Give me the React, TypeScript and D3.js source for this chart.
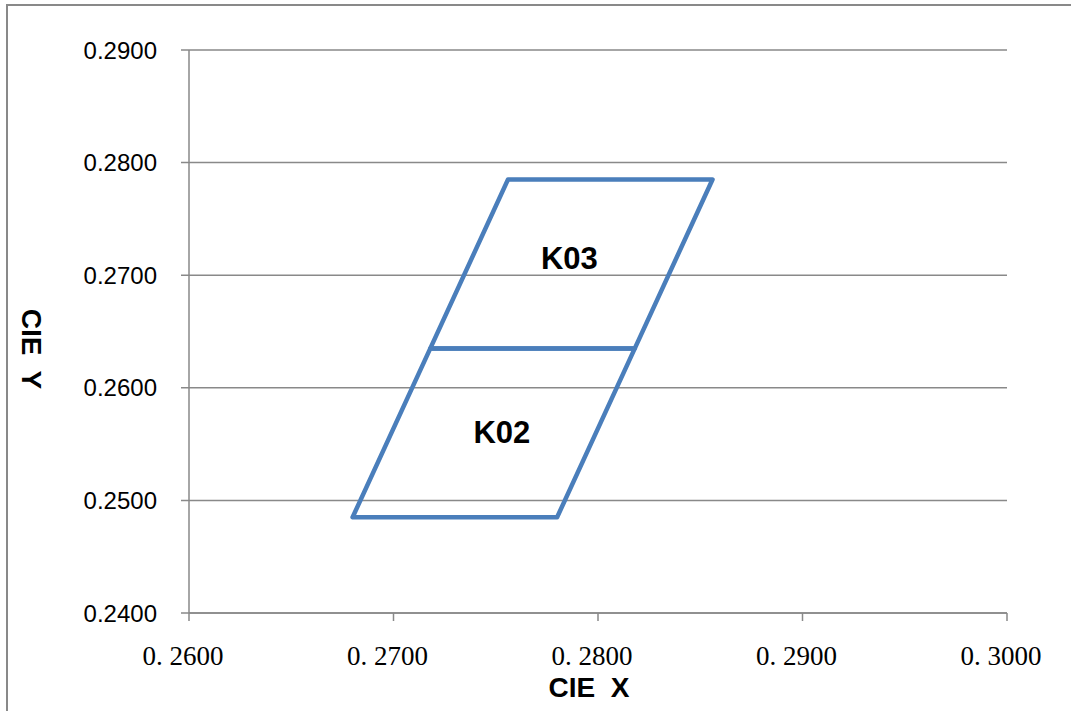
import * as d3 from 'd3';

// CIE x/y bin corners
const binNames = ['K02', 'K03'];
const binX = [
  [0.2680, 0.2780, 0.2818, 0.2718],
  [0.2718, 0.2818, 0.2856, 0.2756],
];
const binY = [
  [0.2485, 0.2485, 0.2635, 0.2635],
  [0.2635, 0.2635, 0.2785, 0.2785],
];
// where each bin name sits (data units)
const labelX = [0.2753, 0.2786];
const labelY = [0.2561, 0.2715];
const xTicks = [0.26, 0.27, 0.28, 0.29, 0.30];
const xTickLabels = ['0. 2600', '0. 2700', '0. 2800', '0. 2900', '0. 3000'];
const yTicks = [0.24, 0.25, 0.26, 0.27, 0.28, 0.29];

const W = 1071;
const H = 711;
const margin = { top: 50, right: 64, bottom: 98, left: 189 };
const grey = '#898989';
const blue = '#4a7ebb';

export default function App() {
  const innerW = W - margin.left - margin.right;
  const innerH = H - margin.top - margin.bottom;

  const x = d3.scaleLinear().domain([0.26, 0.30]).range([0, innerW]);
  const y = d3.scaleLinear().domain([0.24, 0.29]).range([innerH, 0]);

  const line = d3.line<[number, number]>()
    .x(d => x(d[0]))
    .y(d => y(d[1]))
    .curve(d3.curveLinearClosed);

  const bins = binNames.map((name, i) => ({
    name,
    pts: binX[i].map((v, j) => [v, binY[i][j]] as [number, number]),
    lx: labelX[i],
    ly: labelY[i],
  }));

  return (
    <svg
      width={W}
      height={H}
      style={{ position: 'absolute', left: 0, top: 0, background: '#fff' }}
    >
      {/* outer chart frame, cut off at right and bottom */}
      <rect x={7} y={5} width={W + 20} height={H + 20} fill="none" stroke={grey} strokeWidth={2} />

      <g transform={`translate(${margin.left},${margin.top})`}>
        {/* horizontal grid + y ticks */}
        {yTicks.map(t => (
          <g key={t}>
            <line x1={-8} x2={innerW} y1={y(t)} y2={y(t)} stroke={grey} strokeWidth={1.5} />
            <text
              x={-32}
              y={y(t)}
              dy="0.36em"
              textAnchor="end"
              fontFamily="'Liberation Sans', Arial, sans-serif"
              fontSize={24}
              fill="#000"
            >
              {t.toFixed(4)}
            </text>
          </g>
        ))}

        {/* axes */}
        <line x1={0} x2={0} y1={0} y2={innerH} stroke={grey} strokeWidth={1.5} />
        <line x1={0} x2={innerW} y1={innerH} y2={innerH} stroke={grey} strokeWidth={1.5} />
        {xTicks.map((t, i) => (
          <g key={t}>
            <line x1={x(t)} x2={x(t)} y1={innerH} y2={innerH + 8} stroke={grey} strokeWidth={1.5} />
            <text
              x={x(t) - 6}
              y={innerH + 52}
              textAnchor="middle"
              fontFamily="'Liberation Serif', 'DejaVu Serif', serif"
              fontSize={27}
              fill="#000"
            >
              {xTickLabels[i]}
            </text>
          </g>
        ))}

        {/* bins */}
        {bins.map(b => (
          <path
            key={b.name}
            d={line(b.pts) ?? ''}
            fill="none"
            stroke={blue}
            strokeWidth={4.5}
            strokeLinejoin="round"
          />
        ))}
        {bins.map(b => (
          <text
            key={b.name + 't'}
            x={x(b.lx)}
            y={y(b.ly)}
            dy="0.36em"
            textAnchor="middle"
            fontFamily="'Liberation Sans', Arial, sans-serif"
            fontWeight="bold"
            fontSize={31}
            fill="#000"
          >
            {b.name}
          </text>
        ))}
      </g>

      {/* axis titles */}
      <text
        x={589}
        y={697}
        textAnchor="middle"
        fontFamily="'Liberation Sans', Arial, sans-serif"
        fontWeight="bold"
        fontSize={28}
        style={{ whiteSpace: 'pre' }}
      >
        {'CIE  X'}
      </text>
      <text
        transform="translate(22,349) rotate(90)"
        textAnchor="middle"
        fontFamily="'Liberation Sans', Arial, sans-serif"
        fontWeight="bold"
        fontSize={28}
        style={{ whiteSpace: 'pre' }}
      >
        {'CIE  Y'}
      </text>
    </svg>
  );
}
